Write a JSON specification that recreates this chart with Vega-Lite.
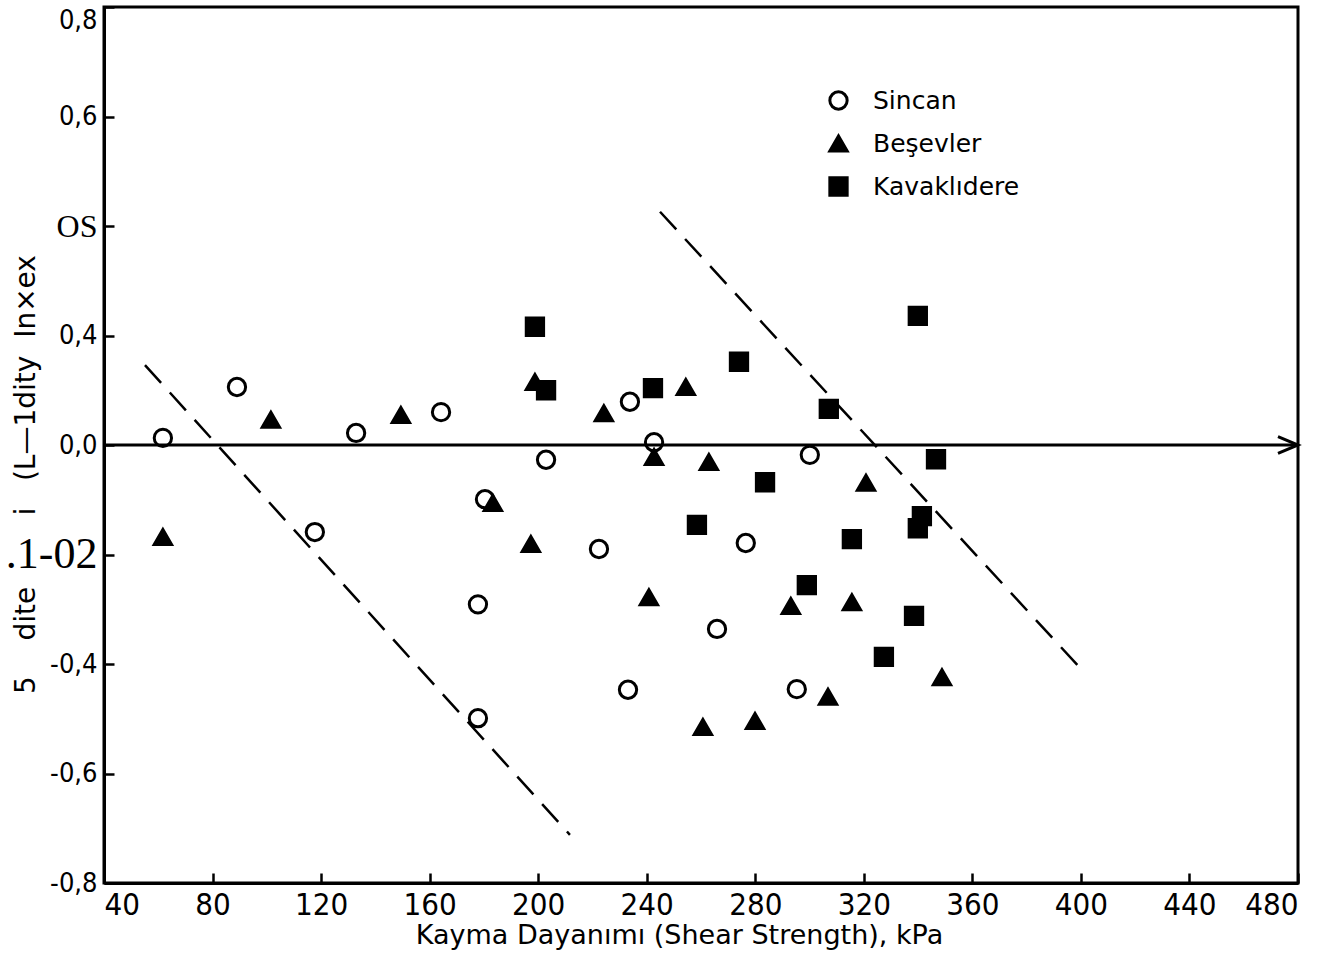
{
  "$schema": "https://vega.github.io/schema/vega-lite/v6.json",
  "autosize": "none",
  "width": 1194,
  "height": 876,
  "padding": {"left": 104, "top": 7, "right": 21, "bottom": 73},
  "background": "white",
  "config": {
    "view": {"stroke": "black", "strokeWidth": 3},
    "axis": {"grid": false, "domainColor": "black", "domainWidth": 3, "tickColor": "black", "tickWidth": 2.5, "labelColor": "black", "titleColor": "black"}
  },
  "datasets": {
    "points": [
      {"site": "Sincan", "x": 61.7, "y": 0.013},
      {"site": "Sincan", "x": 89.0, "y": 0.106},
      {"site": "Sincan", "x": 117.7, "y": -0.159},
      {"site": "Sincan", "x": 132.9, "y": 0.022},
      {"site": "Sincan", "x": 164.2, "y": 0.060},
      {"site": "Sincan", "x": 180.4, "y": -0.099},
      {"site": "Sincan", "x": 177.8, "y": -0.291},
      {"site": "Sincan", "x": 177.8, "y": -0.499},
      {"site": "Sincan", "x": 202.9, "y": -0.027},
      {"site": "Sincan", "x": 222.4, "y": -0.190},
      {"site": "Sincan", "x": 233.8, "y": 0.079},
      {"site": "Sincan", "x": 233.1, "y": -0.447},
      {"site": "Sincan", "x": 242.7, "y": 0.005},
      {"site": "Sincan", "x": 265.9, "y": -0.336},
      {"site": "Sincan", "x": 276.5, "y": -0.179},
      {"site": "Sincan", "x": 295.3, "y": -0.446},
      {"site": "Sincan", "x": 300.1, "y": -0.018},
      {"site": "Beşevler", "x": 61.7, "y": -0.168},
      {"site": "Beşevler", "x": 101.5, "y": 0.046},
      {"site": "Beşevler", "x": 149.4, "y": 0.055},
      {"site": "Beşevler", "x": 183.3, "y": -0.106},
      {"site": "Beşevler", "x": 198.8, "y": 0.115},
      {"site": "Beşevler", "x": 197.3, "y": -0.181},
      {"site": "Beşevler", "x": 224.2, "y": 0.058},
      {"site": "Beşevler", "x": 242.7, "y": -0.022},
      {"site": "Beşevler", "x": 240.8, "y": -0.278},
      {"site": "Beşevler", "x": 254.4, "y": 0.106},
      {"site": "Beşevler", "x": 262.9, "y": -0.031},
      {"site": "Beşevler", "x": 260.7, "y": -0.515},
      {"site": "Beşevler", "x": 279.9, "y": -0.504},
      {"site": "Beşevler", "x": 293.1, "y": -0.294},
      {"site": "Beşevler", "x": 306.8, "y": -0.460},
      {"site": "Beşevler", "x": 315.6, "y": -0.287},
      {"site": "Beşevler", "x": 320.8, "y": -0.069},
      {"site": "Beşevler", "x": 348.8, "y": -0.424},
      {"site": "Kavaklıdere", "x": 198.8, "y": 0.216},
      {"site": "Kavaklıdere", "x": 202.9, "y": 0.100},
      {"site": "Kavaklıdere", "x": 242.3, "y": 0.104},
      {"site": "Kavaklıdere", "x": 274.0, "y": 0.152},
      {"site": "Kavaklıdere", "x": 258.5, "y": -0.146},
      {"site": "Kavaklıdere", "x": 283.6, "y": -0.068},
      {"site": "Kavaklıdere", "x": 299.0, "y": -0.256},
      {"site": "Kavaklıdere", "x": 307.1, "y": 0.066},
      {"site": "Kavaklıdere", "x": 315.6, "y": -0.172},
      {"site": "Kavaklıdere", "x": 327.4, "y": -0.387},
      {"site": "Kavaklıdere", "x": 339.9, "y": 0.236},
      {"site": "Kavaklıdere", "x": 346.6, "y": -0.026},
      {"site": "Kavaklıdere", "x": 341.4, "y": -0.130},
      {"site": "Kavaklıdere", "x": 339.9, "y": -0.152},
      {"site": "Kavaklıdere", "x": 338.5, "y": -0.312}
    ],
    "bounds": [
      {"grp": "L1", "x": 55.1, "y": 0.146},
      {"grp": "L1", "x": 211.7, "y": -0.712},
      {"grp": "L2", "x": 244.9, "y": 0.426},
      {"grp": "L2", "x": 400.4, "y": -0.411}
    ],
    "zero": [{"x": 480, "y": 0}]
  },
  "layer": [
    {
      "data": {"name": "bounds"},
      "mark": {"type": "line", "color": "black", "strokeWidth": 2.5, "strokeDash": [24, 13]},
      "encoding": {
        "x": {"field": "x", "type": "quantitative", "scale": {"domain": [40, 480], "nice": false, "zero": false},
          "axis": {
            "values": [40, 80, 120, 160, 200, 240, 280, 320, 360, 400, 440, 480],
            "tickSize": -10,
            "labelPadding": 17,
            "labelFont": "Liberation Sans Narrow, DejaVu Sans Condensed, DejaVu Sans",
            "labelFontSize": 31,
            "title": "Kayma Dayanımı (Shear Strength), kPa",
            "titleFont": "DejaVu Sans",
            "titleFontSize": 27,
            "titleFontWeight": "normal",
            "titleX": 575,
            "titlePadding": 2
          }
        },
        "y": {"field": "y", "type": "quantitative", "scale": {"domain": [-0.8, 0.8], "nice": false, "zero": false},
          "axis": {
            "values": [-0.8, -0.6, -0.4, -0.2, 0, 0.2, 0.4, 0.6, 0.8],
            "tickSize": -10,
            "labelPadding": 17,
            "labelExpr": "datum.value > 0.7 ? '0,8' : datum.value > 0.5 ? '0,6' : datum.value > 0.3 ? 'OS' : datum.value > 0.1 ? '0,4' : datum.value > -0.1 ? '0,0' : datum.value > -0.3 ? '.1-02' : datum.value > -0.5 ? '-0,4' : datum.value > -0.7 ? '-0,6' : '-0,8'",
            "labelFont": {"condition": {"test": "(datum.value > 0.3 && datum.value < 0.5) || (datum.value > -0.3 && datum.value < -0.1)", "value": "Liberation Serif"}, "value": "Liberation Sans Narrow, DejaVu Sans Condensed, DejaVu Sans"},
            "labelFontSize": {"condition": [{"test": "datum.value > -0.3 && datum.value < -0.1", "value": 44}, {"test": "datum.value > 0.3 && datum.value < 0.5", "value": 32}], "value": 27},
            "labelBaseline": {"condition": {"test": "datum.value > 0.7", "value": "top"}, "value": "middle"},
            "labelFontWeight": "normal",
            "title": "5\u00a0\u00a0\u00a0\u00a0dite\u00a0\u00a0\u00a0\u00a0\u00a0\u00a0\u00a0\u00a0i\u00a0\u00a0\u00a0(L—1dity\u00a0\u00a0In×ex",
            "titleFont": "DejaVu Sans",
            "titleFontSize": 28,
            "titleFontWeight": "normal",
            "titleX": -64,
            "titleY": 467
          }
        },
        "detail": {"field": "grp"}
      }
    },
    {
      "data": {"name": "points"},
      "mark": {"type": "point", "strokeWidth": 3, "size": 300, "opacity": 1},
      "encoding": {
        "x": {"field": "x", "type": "quantitative"},
        "y": {"field": "y", "type": "quantitative"},
        "shape": {"field": "site", "type": "nominal",
          "scale": {"domain": ["Sincan", "Beşevler", "Kavaklıdere"], "range": ["circle", "triangle-up", "square"]},
          "legend": {"orient": "none", "legendX": 722, "legendY": 81, "title": null, "labelFont": "DejaVu Sans", "labelFontSize": 25, "labelColor": "black", "symbolStrokeWidth": 3, "symbolSize": 300, "rowPadding": 14, "labelOffset": 22}
        },
        "fill": {"field": "site", "type": "nominal",
          "scale": {"domain": ["Sincan", "Beşevler", "Kavaklıdere"], "range": ["white", "black", "black"]},
          "legend": {"orient": "none", "legendX": 722, "legendY": 81, "title": null, "labelFont": "DejaVu Sans", "labelFontSize": 25, "labelColor": "black", "symbolStrokeWidth": 3, "symbolSize": 300, "rowPadding": 14, "labelOffset": 22}
        },
        "stroke": {"field": "site", "type": "nominal",
          "scale": {"domain": ["Sincan", "Beşevler", "Kavaklıdere"], "range": ["black", "black", "black"]},
          "legend": {"orient": "none", "legendX": 722, "legendY": 81, "title": null, "labelFont": "DejaVu Sans", "labelFontSize": 25, "labelColor": "black", "symbolStrokeWidth": 3, "symbolSize": 300, "rowPadding": 14, "labelOffset": 22}
        }
      }
    },
    {
      "data": {"name": "zero"},
      "mark": {"type": "rule", "color": "black", "strokeWidth": 3},
      "encoding": {
        "y": {"field": "y", "type": "quantitative"}
      }
    },
    {
      "data": {"name": "zero"},
      "mark": {"type": "point", "shape": "M -1 -0.42 L 0 0 L -1 0.42", "filled": false, "stroke": "black", "strokeWidth": 3, "size": 1600, "opacity": 1},
      "encoding": {
        "x": {"field": "x", "type": "quantitative"},
        "y": {"field": "y", "type": "quantitative"}
      }
    }
  ]
}
